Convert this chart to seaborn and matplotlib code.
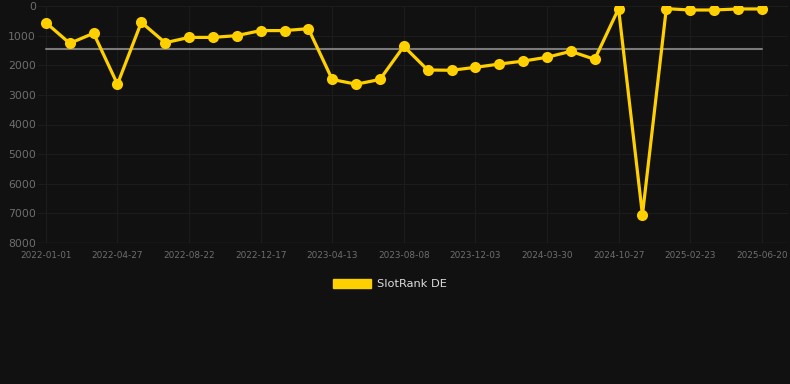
import pandas as pd
import seaborn as sns
import matplotlib.pyplot as plt
from matplotlib.patches import Patch

# rank values (lower = better, axis inverted)
dates = ['2022-01-01', '2022-02-08', '2022-03-19', '2022-04-27', '2022-06-04', '2022-07-13',
         '2022-08-22', '2022-09-30', '2022-11-08', '2022-12-17', '2023-01-25', '2023-03-05',
         '2023-04-13', '2023-05-22', '2023-06-30', '2023-08-08', '2023-09-16', '2023-10-25',
         '2023-12-03', '2024-01-11', '2024-02-19', '2024-03-30', '2024-06-10', '2024-08-19',
         '2024-10-27', '2024-12-05', '2025-01-14', '2025-02-23', '2025-04-03', '2025-05-12',
         '2025-06-20']
rank = [560, 1260, 920, 2640, 550, 1240, 1060, 1060, 1000, 830, 830, 765, 2480, 2640, 2480,
        1360, 2160, 2170, 2070, 1960, 1860, 1730, 1530, 1800, 90, 7050, 90, 135, 135, 100, 100]
series_name = 'SlotRank DE'

df = pd.DataFrame({'date': dates, 'rank': rank})
df['pos'] = range(len(df))

bg = '#111111'
yellow = '#ffd000'

sns.set_style('dark', {'axes.facecolor': bg, 'figure.facecolor': bg, 'grid.color': '#1e1e1e',
                       'axes.grid': True, 'axes.edgecolor': bg})
plt.rcParams['font.family'] = ['DejaVu Sans']

fig = plt.figure(figsize=(7.9, 3.84), dpi=100)
ax = fig.add_axes([38 / 790, 1 - 243 / 384, 750 / 790, 237 / 384])

avg = df['rank'].mean()
ax.plot([0, len(df) - 1], [avg, avg], color='#7a7a7a', lw=1.5, zorder=2)

sns.lineplot(data=df, x='pos', y='rank', ax=ax, color=yellow, lw=2.3, marker='o',
             markersize=8, markeredgewidth=0, zorder=3)

ax.set_ylim(8000, 0)
ax.set_xlim(-0.33, 31.1)
ax.set_yticks(range(0, 8001, 1000))
ax.set_yticklabels([str(v) for v in range(0, 8001, 1000)])
ticks = list(range(0, len(df), 3))
ax.set_xticks(ticks)
ax.set_xticklabels([dates[i] for i in ticks])
ax.tick_params(axis='y', colors='#6e6e6e', labelsize=7.8, length=0, pad=1.5)
ax.tick_params(axis='x', colors='#6e6e6e', labelsize=6.4, length=0, pad=6)
ax.grid(True, color='#1c1c1c', lw=0.8)
ax.axhline(8000, color='#2a2a2a', lw=1.0, zorder=1)
ax.set_xlabel('')
ax.set_ylabel('')
for s in ax.spines.values():
    s.set_visible(False)

fig.legend(handles=[Patch(facecolor=yellow, edgecolor=yellow, label=series_name)],
           loc='center', bbox_to_anchor=(0.4937, 1 - 284 / 384), frameon=False,
           labelcolor='#dddddd', fontsize=8.2, handlelength=3.3, handleheight=0.95,
           handletextpad=0.55)

fig.savefig('out.png', dpi=100, facecolor=bg)
